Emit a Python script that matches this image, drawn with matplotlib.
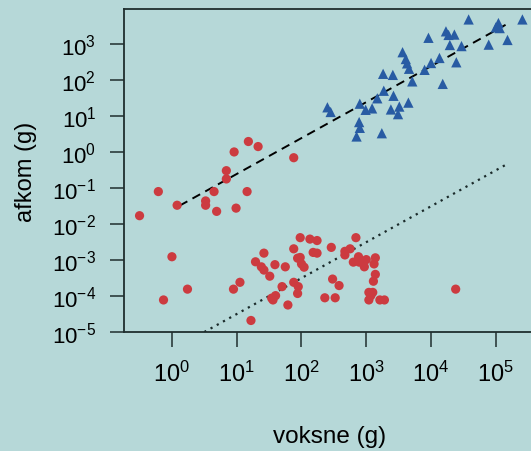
import numpy as np
import matplotlib.pyplot as plt
from matplotlib.ticker import LogFormatterSciNotation, NullLocator

plt.rcParams['font.family'] = ['Liberation Sans', 'DejaVu Sans']
plt.rcParams['mathtext.fontset'] = 'custom'
plt.rcParams['mathtext.rm'] = 'Liberation Sans'
plt.rcParams['mathtext.it'] = 'Liberation Sans'

BG = '#b6d8d8'
RED = '#cc3b40'
BLUE = '#285ba3'
SPINE = '#1f2e2e'

# log10 of body mass (g): adults (voksne) vs offspring (afkom)
# blue triangles
tri_voksne_log = [4.58, 5.04, 5.00, 5.06, 5.41, 5.18, 4.89, 3.96, 4.23, 4.27,
                  4.36, 4.29, 4.47, 3.56, 3.61, 3.63, 3.66, 4.13, 4.00, 4.39,
                  3.90, 3.71, 4.18, 3.26, 3.41, 3.27, 3.17, 3.42, 3.65, 3.51,
                  3.38, 3.49, 2.90, 2.99, 3.09, 2.40, 2.45, 2.89, 2.90, 2.85,
                  3.24]
tri_afkom_log = [3.68, 3.58, 3.46, 3.44, 3.68, 3.11, 2.98, 3.17, 3.35, 3.25,
                 3.26, 2.97, 2.94, 2.77, 2.58, 2.46, 2.31, 2.61, 2.47, 2.49,
                 2.28, 1.96, 1.89, 2.17, 2.14, 1.70, 1.49, 1.56, 1.37, 1.26,
                 1.18, 1.05, 1.34, 1.17, 1.21, 1.24, 1.11, 0.83, 0.67, 0.43,
                 0.52]

# red circles
dot_voksne_log = [-0.50, -0.21, 0.08, 0.52, 0.52, 0.65, 0.69, 0.84, 0.84, 0.96,
                  0.99, 1.16, 1.18, 1.33, 1.88,
                  0.00, -0.13, 0.24, 0.95, 1.05, 1.22, 1.29, 1.42, 1.38, 1.42,
                  1.51, 1.59, 1.75, 1.54, 1.56, 1.60, 1.70, 1.79, 1.88, 1.98,
                  2.13, 2.24, 1.94, 1.98, 2.00, 2.04, 1.88, 1.95, 1.94, 2.18,
                  2.24, 2.46, 2.48, 2.58, 2.36, 2.52, 2.84, 2.67, 2.75, 2.67,
                  2.80, 2.88, 2.89, 3.00, 2.97, 3.14, 3.12, 3.14, 3.11, 3.04,
                  3.10, 3.07, 3.04, 3.21, 3.28, 4.38]
dot_afkom_log = [-1.77, -1.10, -1.48, -1.36, -1.48, -1.10, -1.65, -0.52, -0.75, 0.00,
                 -1.56, -1.10, 0.29, 0.15, -0.16,
                 -2.91, -4.11, -3.81, -3.81, -3.62, -4.68, -3.05, -2.81, -3.19, -3.28,
                 -3.45, -3.13, -3.19, -4.06, -4.11, -3.99, -3.74, -4.25, -2.69, -2.38,
                 -2.42, -2.46, -2.95, -2.93, -3.11, -3.20, -3.62, -3.74, -3.93, -2.79,
                 -2.81, -2.65, -3.53, -3.71, -4.05, -4.05, -2.38, -2.76, -2.69, -2.86,
                 -3.06, -2.91, -3.06, -2.99, -3.19, -2.94, -3.11, -3.40, -3.59, -3.90,
                 -3.90, -3.99, -4.11, -4.11, -4.11, -3.81]

# fitted lines (log10 endpoints)
dash_x_log = [0.12, 5.15]
dash_y_log = [-1.49, 3.53]
dot_x_log = [0.50, 5.15]
dot_y_log = [-5.00, -0.36]

fig = plt.figure(figsize=(5.31, 4.52), dpi=100, facecolor=BG)
ax = fig.add_axes([124 / 531, 1 - 333 / 452, 412 / 531, 323 / 452])
ax.set_facecolor(BG)

ax.plot(10 ** np.array(dash_x_log), 10 ** np.array(dash_y_log), color='black',
        linestyle=(0, (4.5, 3)), linewidth=1.4)
ax.plot(10 ** np.array(dot_x_log), 10 ** np.array(dot_y_log), color='#1a2a2a',
        linestyle=(0, (1, 2.2)), linewidth=1.6)

ax.scatter(10 ** np.array(dot_voksne_log), 10 ** np.array(dot_afkom_log),
           s=44, marker='o', color=RED, edgecolors='none', zorder=3)
ax.scatter(10 ** np.array(tri_voksne_log), 10 ** np.array(tri_afkom_log),
           s=55, marker='^', color=BLUE, edgecolors='none', zorder=3)

ax.set_xscale('log')
ax.set_yscale('log')
ax.set_xlim(10 ** -0.74, 10 ** 5.62)
ax.set_ylim(1e-5, 10 ** 3.97)

ax.set_xticks([10 ** k for k in range(0, 6)])
ax.set_yticks([10 ** k for k in range(-5, 4)])
ax.xaxis.set_minor_locator(NullLocator())
ax.yaxis.set_minor_locator(NullLocator())
ax.xaxis.set_major_formatter(LogFormatterSciNotation())
ax.yaxis.set_major_formatter(LogFormatterSciNotation())

for side in ['left', 'top', 'bottom']:
    ax.spines[side].set_color(SPINE)
    ax.spines[side].set_linewidth(1.3)
ax.spines['right'].set_visible(False)

ax.tick_params(axis='x', length=11, width=1.1, color=SPINE, pad=10,
               labelsize=17, labelcolor='black')
ax.tick_params(axis='y', length=10, width=1.1, color=SPINE, pad=10,
               labelsize=16, labelcolor='black')

ax.set_xlabel('voksne (g)', fontsize=17.5, labelpad=28)
ax.set_ylabel('afkom (g)', fontsize=17, labelpad=11)

fig.savefig('out.png', dpi=100, facecolor=BG)
